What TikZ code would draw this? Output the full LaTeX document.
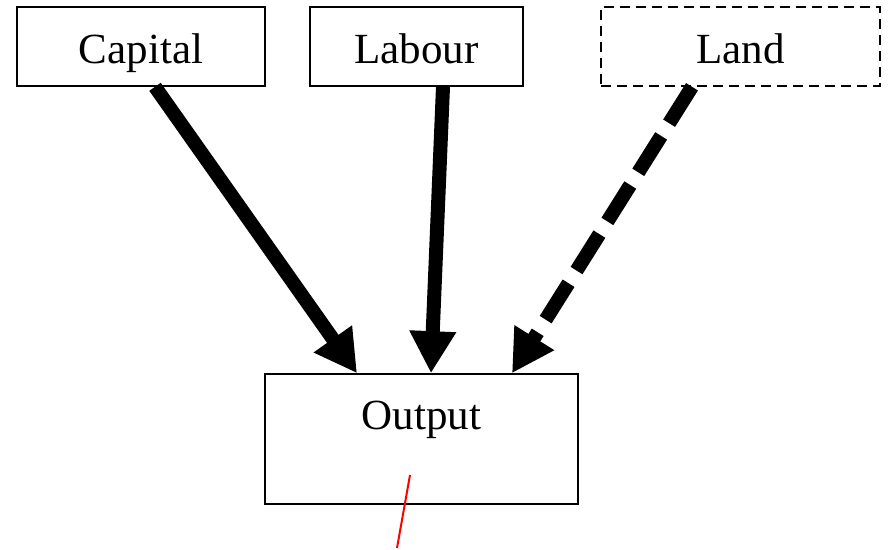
\documentclass[tikz,border=0pt]{standalone}
\usepackage{fontspec}
\setmainfont{Liberation Serif}
\usetikzlibrary{arrows.meta}
\begin{document}
\begin{tikzpicture}[x=1pt,y=-1pt,
  factorbox/.style={draw, line width=1.6pt, minimum height=79pt, inner sep=0pt,
    text height=40pt, text depth=7pt,
    font=\fontsize{43}{50}\selectfont},
  flow/.style={line width=14pt,
    -{Triangle[length=42pt,width=44pt]}},
  labeltext/.style={font=\fontsize{43}{50}\selectfont, inner sep=0pt}
]
\useasboundingbox (0,0) rectangle (889,549);

% input factors
\node[factorbox, minimum width=248pt] (capital) at (141,46.5) {Capital};
\node[factorbox, minimum width=213pt] (labour)  at (416.5,46.5) {Labour};
\node[factorbox, minimum width=279pt, dash pattern=on 10pt off 6pt] (land) at (740.5,46.5) {Land};

% output box, caption in its upper part
\node[draw, line width=1.6pt, minimum width=313pt, minimum height=130pt, inner sep=0pt]
  (output) at (421.5,439) {};
\node[labeltext, anchor=base] (outputlabel) at (421.5,429) {Output};

% flows into output
\draw[flow] ([xshift=14pt]capital.south) -- ([xshift=-64.5pt]output.north);
\draw[flow] ([xshift=26.5pt]labour.south) -- ([xshift=9.5pt]output.north);
\draw[flow, dash pattern=on 43pt off 15pt] ([xshift=-48.5pt]land.south) -- ([xshift=90.5pt]output.north);

% red stroke across the bottom edge
\coordinate (redtop) at (410,475);
\coordinate (redbottom) at (397,548);
\draw[red, line width=2pt] (redtop) -- (redbottom);
\end{tikzpicture}
\end{document}
